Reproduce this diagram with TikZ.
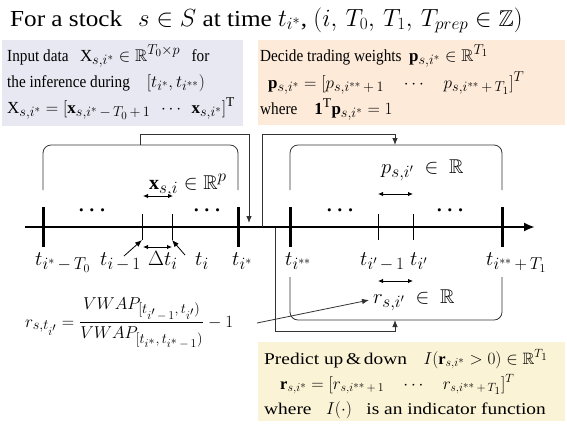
\documentclass[tikz,border=0pt]{standalone}
\usepackage{fontspec}
\usepackage{amsmath,amssymb,bm}
\setmainfont{Liberation Serif}
\newfontfamily\boxfont[FakeStretch=0.9]{Liberation Serif}
\newfontfamily\widefont[FakeStretch=1.18]{Liberation Serif}
\newfontfamily\titlefont[FakeStretch=1.1]{Liberation Serif}
\DeclareMathSizes{23}{23}{17.5}{14}
\DeclareMathSizes{20}{20}{16}{12.5}
\DeclareMathSizes{19}{19}{15.5}{12}
\DeclareMathSizes{17}{17}{13.5}{11}
\DeclareMathSizes{16.5}{16.5}{13}{10.5}
\newcommand{\smn}{\,{-}\,}
\newcommand{\spl}{\,{+}\,}
\usetikzlibrary{arrows.meta}
\definecolor{boxblue}{RGB}{232,232,242}
\definecolor{boxorange}{RGB}{253,234,217}
\definecolor{boxyellow}{RGB}{251,243,213}
\definecolor{linegray}{RGB}{50,50,50}
\begin{document}
\begin{tikzpicture}[x=1bp,y=-1bp,
  boxtext/.style={anchor=base west, inner sep=0pt, font=\fontsize{17}{20}\selectfont\boxfont},
  ytext/.style={anchor=base west, inner sep=0pt, font=\fontsize{16.5}{20}\selectfont\widefont},
  tlabel/.style={anchor=base west, inner sep=0pt, font=\fontsize{20}{24}\selectfont},
  mlabel/.style={anchor=base west, inner sep=0pt, font=\fontsize{20}{24}\selectfont},
  dots/.style={inner sep=0pt, font=\fontsize{20}{24}\selectfont},
  bracket/.style={draw=linegray, line width=0.8bp, rounded corners=8bp},
  conn/.style={draw=linegray, line width=0.8bp},
  arr/.style={-{Latex[length=7bp,width=5.5bp]}},
  dbl/.style={{Latex[length=5bp,width=4.5bp]}-{Latex[length=5bp,width=4.5bp]}, line width=0.9bp},
  bigtick/.style={line width=3bp},
  smalltick/.style={line width=0.8bp}
]
\useasboundingbox (0,0) rectangle (567,423);
% boxes
\fill[boxblue] (2,40) rectangle (243,126);
\fill[boxorange] (258,40) rectangle (565,125);
\fill[boxyellow] (258,342) rectangle (565,421);
% title
\node[anchor=base west, inner sep=0pt, font=\fontsize{23}{26}\selectfont\titlefont] (title) at (10,26)
  {For a stock\hspace{16bp}$s\in S$ at time $t_{i^*}$, $(i,\,T_0,\,T_1,\,T_{prep}\in\mathbb{Z})$};
% blue box text
\node[boxtext] (b1a) at (7,61) {Input data\ \ \ $\mathrm{X}_{s,i^*}\in\mathbb{R}^{T_0\times p}$\ \ \ for};
\node[boxtext] (b1b) at (7,87) {the inference during\quad $[t_{i^*},t_{i^{**}})$};
\node[boxtext] (b1c) at (7,113) {$\mathrm{X}_{s,i^*}=[\mathbf{x}_{s,i^*\smn T_0\spl 1}\ \ \cdots\ \ \mathbf{x}_{s,i^*}]^{\mathrm{T}}$};
% orange box text
\node[boxtext] (b2a) at (260,61) {Decide trading weights\ \ $\mathbf{p}_{s,i^*}\in\mathbb{R}^{T_1}$};
\node[boxtext] (b2b) at (268,88) {$\mathbf{p}_{s,i^*}=[p_{s,i^{**}\spl 1}\quad\cdots\quad p_{s,i^{**}\spl T_1}]^T$};
\node[boxtext] (b2c) at (260,114) {where\quad $\mathbf{1}^{\mathrm{T}}\mathbf{p}_{s,i^*}=1$};
% yellow box text
\node[ytext] (b3a) at (264,364) {Predict up\,\&\,down\quad $I(\mathbf{r}_{s,i^*}>0)\in\mathbb{R}^{T_1}$};
\node[ytext] (b3b) at (280,389) {$\mathbf{r}_{s,i^*}=[r_{s,i^{**}\spl 1}\quad\cdots\quad r_{s,i^{**}\spl T_1}]^T$};
\node[ytext] (b3c) at (264,414) {where\ \ \ $I(\cdot)$\ \ \ is an indicator function};
% axis
\coordinate (axL) at (25,227);
\coordinate (axR) at (535,227);
\draw[line width=2.6bp, -{Latex[length=11bp,width=9bp]}] (axL) -- (axR);
% big ticks
\foreach \x/\n in {43/tA,238/tB,290/tC,502/tD}{
  \coordinate (\n-top) at (\x,207);
  \coordinate (\n-bot) at (\x,247);
  \draw[bigtick] (\n-top) -- (\n-bot);
}
% small ticks
\foreach \x/\n in {142/sA,172/sB,378/sC,413/sD}{
  \coordinate (\n-top) at (\x,214);
  \coordinate (\n-bot) at (\x,240);
  \draw[smalltick] (\n-top) -- (\n-bot);
}
% dots
\node[dots] (d1) at (94,211) {$\boldsymbol{\cdots}$};
\node[dots] (d2) at (209,211) {$\boldsymbol{\cdots}$};
\node[dots] (d3) at (342,211) {$\boldsymbol{\cdots}$};
\node[dots] (d4) at (452,211) {$\boldsymbol{\cdots}$};
% tick labels
\node[tlabel] (l1) at (35,265) {$t_{i^*\smn T_0}$};
\node[tlabel] (l2) at (100,265) {$t_{i\smn 1}$};
\node[tlabel] (l3) at (148,265) {$\Delta t_i$};
\node[tlabel] (l4) at (195,265) {$t_i$};
\node[tlabel] (l5) at (232,265) {$t_{i^*}$};
\node[tlabel] (l6) at (285,265) {$t_{i^{**}}$};
\node[tlabel] (l7) at (360,265) {$t_{i'\smn 1}$};
\node[tlabel] (l8) at (410,265) {$t_{i'}$};
\node[tlabel] (l9) at (486,265) {$t_{i^{**}\spl T_1}$};
% arrows from labels to small ticks
\coordinate (l2a) at (124,256);
\draw[arr, line width=0.8bp] (l2a) -- (sA-bot);
\coordinate (l4a) at (185,255);
\draw[arr, line width=0.8bp] (l4a) -- (sB-bot);
% double arrows
\coordinate (dA1) at (143,196); \coordinate (dA2) at (173,196);
\draw[dbl] (dA1) -- (dA2);
\coordinate (dB1) at (143,247); \coordinate (dB2) at (172,247);
\draw[dbl] (dB1) -- (dB2);
\coordinate (dC1) at (378,194); \coordinate (dC2) at (413,194);
\draw[dbl] (dC1) -- (dC2);
\coordinate (dD1) at (378,281); \coordinate (dD2) at (413,281);
\draw[dbl] (dD1) -- (dD2);
% element labels
\node[mlabel] (xl) at (149,189) {$\mathbf{x}_{s,i}\in\mathbb{R}^p$};
\node[mlabel] (pl) at (381,173) {$p_{s,i'}\ \in\ \mathbb{R}$};
\node[mlabel] (rl) at (373,303) {$r_{s,i'}\ \in\ \mathbb{R}$};
% brackets
\draw[bracket] (43,190) -- (43,145) -- (238,145) -- (238,190);
\draw[bracket] (290,190) -- (290,145) -- (502,145) -- (502,190);
\draw[bracket] (290,277) -- (290,320) -- (502,320) -- (502,277);
% connectors
\coordinate (c1s) at (140,145);
\coordinate (c1e) at (249,223);
\draw[conn, arr] (c1s) -- (140,134) -- (249,134) -- (c1e);
\coordinate (c2s) at (262,227);
\coordinate (c2e) at (395,145);
\draw[conn, arr] (c2s) -- (262,134) -- (395,134) -- (c2e);
\coordinate (c3s) at (275,228);
\coordinate (c3e) at (395,320);
\draw[conn, arr] (c3s) -- (275,331) -- (395,331) -- (c3e);
% equation
\node[anchor=base west, inner sep=0pt, font=\fontsize{19}{22}\selectfont] (eq) at (25,327)
  {$r_{s,t_{i'}}=\dfrac{VWAP_{[t_{i'\smn 1},\,t_{i'})}}{VWAP_{[t_{i^*},\,t_{i^*\smn 1})}}-1$};
\coordinate (eqe) at (257,323);
\draw[conn, arr] (eqe) -- ([xshift=-4bp]rl.west);
\end{tikzpicture}
\end{document}
